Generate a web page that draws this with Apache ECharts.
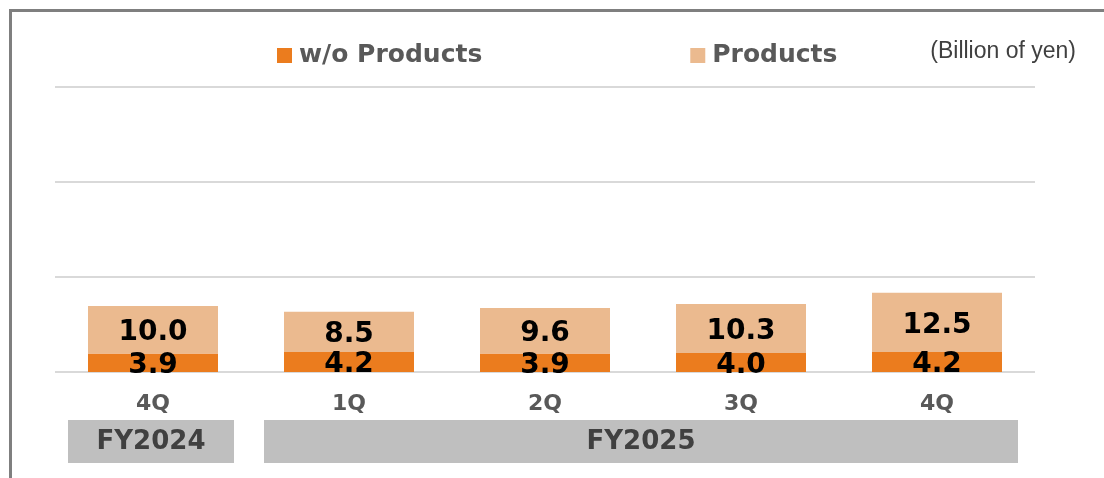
<!DOCTYPE html>
<html>
<head>
<meta charset="utf-8">
<script src="https://cdn.jsdelivr.net/npm/echarts@6/dist/echarts.min.js"></script>
<style>
  html, body { margin: 0; padding: 0; background: #ffffff; }
  #chart { width: 1104px; height: 478px; }
</style>
</head>
<body>
<div id="chart"></div>
<script>
// Quarterly amounts, billion of yen
const quarters = ['4Q', '1Q', '2Q', '3Q', '4Q'];
const withoutProducts = [3.9, 4.2, 3.9, 4.0, 4.2];
const products = [10.0, 8.5, 9.6, 10.3, 12.5];
const seriesNames = ['w/o Products', 'Products'];
// Fiscal-year groups: first and last quarter index covered by each year
const fiscalYears = ['FY2024', 'FY2025'];
const yearFrom = [0, 1];
const yearTo = [0, 4];
const unitLabel = '(Billion of yen)';
const yTicks = [0, 20, 40, 60];

const BOLD = 'DejaVu Sans';
const chart = echarts.init(document.getElementById('chart'), null, { renderer: 'canvas' });

const valueLabel = {
  show: true,
  position: 'inside',
  offset: [0, 3],
  color: '#000000',
  fontFamily: BOLD,
  fontWeight: 'bold',
  fontSize: 28,
  formatter: p => p.value.toFixed(1)
};

// Grey band under the quarter labels naming each fiscal year
function renderYearBox(params, api) {
  const from = api.value(0);
  const to = api.value(1);
  const band = api.size([1, 0])[0];
  const start = api.coord([from, 0]);
  const end = api.coord([to, 0]);
  const x0 = start[0] - band / 2 + 13;
  const x1 = end[0] + band / 2 - 17;
  const y0 = start[1] + 48;
  const h = 43;
  return {
    type: 'group',
    children: [
      {
        type: 'rect',
        shape: { x: x0, y: y0, width: x1 - x0, height: h },
        style: { fill: '#BFBFBF' }
      },
      {
        type: 'text',
        style: {
          x: (x0 + x1) / 2,
          y: y0 + h / 2 + 1,
          text: fiscalYears[params.dataIndex],
          align: 'center',
          verticalAlign: 'middle',
          fill: '#404040',
          font: 'bold 26px "DejaVu Sans"'
        }
      }
    ]
  };
}

const option = {
  animation: false,
  backgroundColor: '#ffffff',
  title: {
    text: unitLabel,
    right: 23,
    top: 35,
    textStyle: {
      fontFamily: 'Liberation Sans',
      fontWeight: 'normal',
      fontSize: 23,
      color: '#404040'
    }
  },
  legend: {
    data: seriesNames,
    left: 272,
    top: 38,
    icon: 'rect',
    itemWidth: 15,
    itemHeight: 15,
    itemGap: 208,
    textStyle: {
      fontFamily: BOLD,
      fontWeight: 'bold',
      fontSize: 25,
      color: '#595959',
      padding: [0, 0, 0, 2]
    }
  },
  graphic: [
    {
      type: 'rect',
      silent: true,
      shape: { x: 10.5, y: 10.5, width: 1200, height: 1000 },
      style: { fill: 'none', stroke: '#7F7F7F', lineWidth: 3 }
    }
  ],
  grid: { left: 55, right: 69, top: 87, bottom: 106 },
  xAxis: {
    type: 'category',
    data: quarters,
    axisLine: { show: false },
    axisTick: { show: false },
    axisLabel: {
      margin: 21,
      fontFamily: BOLD,
      fontWeight: 'bold',
      fontSize: 22,
      color: '#595959'
    }
  },
  yAxis: {
    type: 'value',
    min: yTicks[0],
    max: yTicks[yTicks.length - 1],
    interval: yTicks[1] - yTicks[0],
    axisLabel: { show: false },
    axisLine: { show: false },
    axisTick: { show: false },
    splitLine: { show: true, lineStyle: { color: '#D9D9D9', width: 2 } }
  },
  series: [
    {
      name: seriesNames[0],
      type: 'bar',
      stack: 'total',
      barWidth: 130,
      data: withoutProducts,
      itemStyle: { color: '#EB7C1E' },
      label: valueLabel,
      z: 2
    },
    {
      name: seriesNames[1],
      type: 'bar',
      stack: 'total',
      barWidth: 130,
      data: products,
      itemStyle: { color: '#EBBA8F' },
      label: valueLabel,
      z: 2
    },
    {
      type: 'custom',
      name: 'years',
      clip: false,
      silent: true,
      renderItem: renderYearBox,
      encode: { x: [0, 1], y: 2 },
      data: fiscalYears.map((n, i) => [yearFrom[i], yearTo[i], 0])
    }
  ]
};

chart.setOption(option);
</script>
</body>
</html>
